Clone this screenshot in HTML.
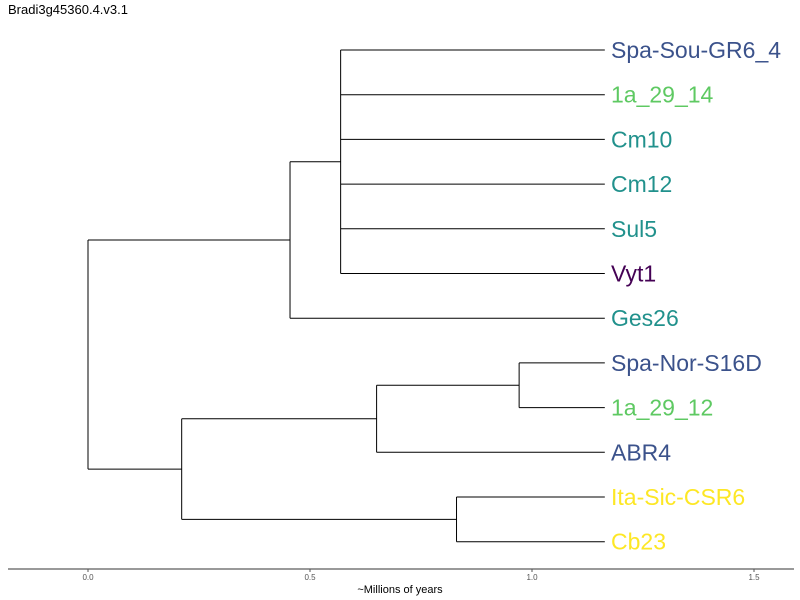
<!DOCTYPE html>
<html><head><meta charset="utf-8"><style>
body{margin:0;background:#fff}
svg{display:block;font-family:"Liberation Sans",sans-serif}
</style></head><body>
<svg id="chart" width="800" height="600" viewBox="0 0 800 600" xmlns="http://www.w3.org/2000/svg">
<text x="8" y="14" font-size="13" fill="#000">Bradi3g45360.4.v3.1</text>
<g id="tree"></g>
<g id="labels"></g>
<g id="axis"></g>
<text x="400" y="593" font-size="11" text-anchor="middle" fill="#000">~Millions of years</text>
</svg>
<script>
const leafNames = ["Spa-Sou-GR6_4","1a_29_14","Cm10","Cm12","Sul5","Vyt1","Ges26","Spa-Nor-S16D","1a_29_12","ABR4","Ita-Sic-CSR6","Cb23"];
const leafColors = ["#3b528b","#5ec962","#21918c","#21918c","#21918c","#440154","#21918c","#3b528b","#5ec962","#3b528b","#fde725","#fde725"];
const leafDepth = 1.164;
// internal nodes: id, depth (Myr), children (leaf index as number, internal node as "n#")
const nodeIds = ["n0","n1","n2","n3","n4","n5","n6"];
const nodeDepths = [0.0, 0.455, 0.569, 0.211, 0.650, 0.971, 0.830];
const nodeChildren = [["n1","n3"],["n2",6],[0,1,2,3,4,5],["n4","n6"],["n5",9],[7,8],[10,11]];
const tickValues = [0.0,0.5,1.0,1.5];
const tickLabels = ["0.0","0.5","1.0","1.5"];

const xs = v => 88 + v*444;
const ys = i => 50 + i*44.7;
const NS = "http://www.w3.org/2000/svg";
const tree = document.getElementById('tree');
function line(x1,y1,x2,y2,name){
  const l=document.createElementNS(NS,'line');
  l.setAttribute('x1',x1);l.setAttribute('y1',y1);l.setAttribute('x2',x2);l.setAttribute('y2',y2);
  l.setAttribute('stroke','#000');l.setAttribute('stroke-width','1');
  
  
  tree.appendChild(l);
}
function nodeY(c){
  if(typeof c==='number') return ys(c);
  const k=nodeIds.indexOf(c); const ch=nodeChildren[k];
  return (nodeY(ch[0])+nodeY(ch[ch.length-1]))/2;
}
function draw(id){
  const k=nodeIds.indexOf(id); const x=xs(nodeDepths[k]); const ch=nodeChildren[k];
  line(x,nodeY(ch[0]),x,nodeY(ch[ch.length-1]),'node-'+id+'-vertical');
  ch.forEach(c=>{
    if(typeof c==='number'){ line(x,ys(c),xs(leafDepth),ys(c),'branch-'+leafNames[c]); }
    else { const j=nodeIds.indexOf(c); line(x,nodeY(c),xs(nodeDepths[j]),nodeY(c),'branch-'+c); draw(c); }
  });
}
draw("n0");
const lab=document.getElementById('labels');
leafNames.forEach((n,i)=>{
  const t=document.createElementNS(NS,'text');
  t.setAttribute('x',611);t.setAttribute('y',ys(i)+8);t.setAttribute('font-size','23');
  t.setAttribute('fill',leafColors[i]);t.textContent=n;
  
  
  lab.appendChild(t);
});
const ax=document.getElementById('axis');
const al=document.createElementNS(NS,'line');
al.setAttribute('x1',8);al.setAttribute('x2',794);al.setAttribute('y1',569);al.setAttribute('y2',569);
al.setAttribute('stroke','#333');al.setAttribute('stroke-width','1');


ax.appendChild(al);
tickValues.forEach((v,i)=>{
  const tk=document.createElementNS(NS,'line');
  tk.setAttribute('x1',xs(v));tk.setAttribute('x2',xs(v));tk.setAttribute('y1',569);tk.setAttribute('y2',572);
  tk.setAttribute('stroke','#555');
  
  
  ax.appendChild(tk);
  const t=document.createElementNS(NS,'text');
  t.setAttribute('x',xs(v));t.setAttribute('y',580);t.setAttribute('font-size','8');
  t.setAttribute('text-anchor','middle');t.setAttribute('fill','#555');t.textContent=tickLabels[i];
  
  
  ax.appendChild(t);
});
</script>
</body></html>
